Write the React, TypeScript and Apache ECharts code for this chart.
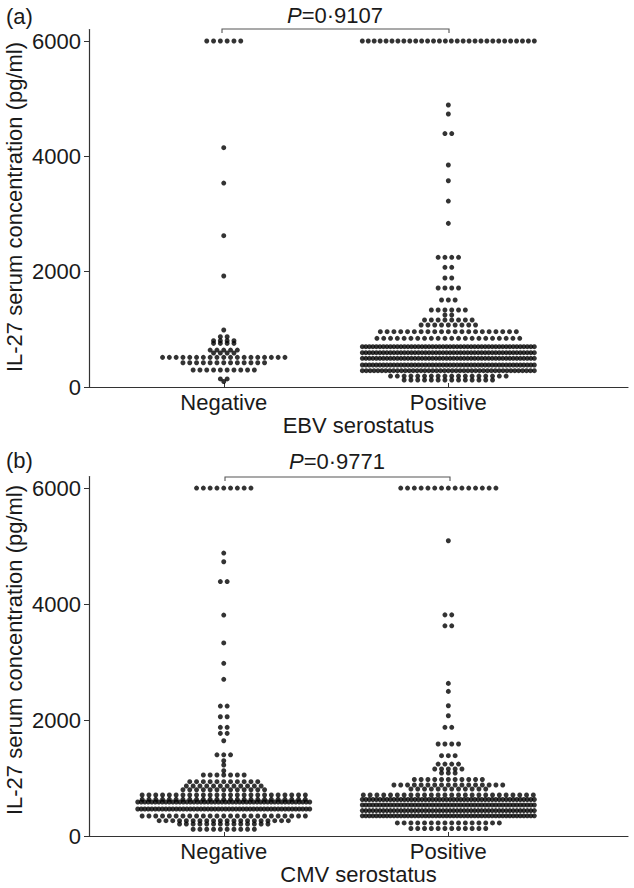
import React, { useEffect, useRef } from 'react';
import * as echarts from 'echarts';

// ---- data (levels in pg/ml and number of dots at each level) ----
const groups = ['Negative', 'Positive'];
const yTicks = [0, 2000, 4000, 6000];

const ebvNegLevels = [6000, 4150, 3537, 2624, 1925, 988, 872, 803, 757, 640, 590, 514, 421, 295, 140, 95];
const ebvNegCounts = [6, 1, 1, 1, 1, 1, 2, 4, 4, 5, 4, 19, 13, 10, 2, 1];

const ebvPosLevels = [6000, 4890, 4734, 4395, 3850, 3577, 3225, 2838, 2249, 2076, 1890, 1717, 1509, 1335, 1248, 1162, 1075, 959, 844, 699, 595, 497, 381, 283, 190, 121];
const ebvPosCounts = [30, 1, 1, 2, 1, 1, 1, 1, 4, 2, 2, 4, 3, 6, 2, 8, 9, 21, 22, 50, 50, 50, 50, 45, 18, 14];

const cmvNegLevels = [6000, 4879, 4730, 4388, 3810, 3330, 2978, 2702, 2241, 2057, 1874, 1770, 1643, 1400, 1298, 1224, 1126, 1052, 937, 862, 798, 707, 633, 586, 465, 345, 264, 207, 116];
const cmvNegCounts = [9, 1, 1, 2, 1, 1, 1, 1, 2, 2, 2, 2, 1, 3, 1, 1, 1, 7, 11, 12, 13, 25, 25, 50, 50, 25, 20, 14, 10];

const cmvPosLevels = [6000, 5092, 3814, 3625, 2632, 2494, 2246, 2074, 1874, 1586, 1385, 1241, 1155, 1086, 974, 880, 810, 707, 630, 535, 438, 348, 225, 130];
const cmvPosCounts = [15, 1, 2, 2, 1, 1, 1, 1, 2, 4, 3, 4, 5, 3, 11, 17, 12, 26, 50, 50, 50, 50, 16, 12];

// ---- layout constants ----
const W = 634;
const H = 888;
const FONT = "'Liberation Sans', Arial, Helvetica, sans-serif";
const FS = 22;
const GRID_LEFT = 89;
const GRID_RIGHT = 6;
const X_MIN = 0.4;
const X_MAX = 2.8;
const Y_MAX = 6200;
const DOT_STEP_PX = 6.8;
const MAX_ROW_PX = 172;

function swarm(levels: number[], counts: number[], center: number, unitsPerPx: number) {
  const pts: number[][] = [];
  levels.forEach((v, r) => {
    const n = counts[r];
    const step = n > 1 ? Math.min(DOT_STEP_PX, MAX_ROW_PX / (n - 1)) : 0;
    for (let i = 0; i < n; i++) {
      const off = (i - (n - 1) / 2) * step;
      pts.push([center + off * unitsPerPx, v]);
    }
  });
  return pts;
}

export default function App() {
  const ref = useRef<HTMLDivElement>(null);

  useEffect(() => {
    if (!ref.current) return;
    const chart = echarts.init(ref.current, undefined, { renderer: 'svg', width: W, height: H });
    const gridW = W - GRID_LEFT - GRID_RIGHT;
    const upp = (X_MAX - X_MIN) / gridW;

    const grids = [
      { left: GRID_LEFT, top: 29.5, width: gridW, height: 357.5 },
      { left: GRID_LEFT, top: 476.5, width: gridW, height: 359.5 },
    ];
    const xNames = ['EBV serostatus', 'CMV serostatus'];

    const xAxes = [0, 1].map((i) => ({
      type: 'value',
      gridIndex: i,
      min: X_MIN,
      max: X_MAX,
      axisLine: { show: true, onZero: false, lineStyle: { color: '#333', width: 1.2 } },
      axisTick: { show: true, inside: true, length: 4, customValues: [1, 2], lineStyle: { color: '#333', width: 1 } },
      axisLabel: {
        show: true,
        customValues: [1, 2],
        formatter: (v: number) => groups[Math.round(v) - 1] ?? '',
        fontSize: FS,
        fontFamily: FONT,
        color: '#1a1a1a',
        margin: 4,
      },
      splitLine: { show: false },
      name: xNames[i],
      nameLocation: 'middle',
      nameGap: 27,
      nameTextStyle: { fontSize: FS, fontFamily: FONT, color: '#1a1a1a' },
    }));

    const yAxes = [0, 1].map((i) => ({
      type: 'value',
      gridIndex: i,
      min: 0,
      max: Y_MAX,
      axisLine: { show: true, onZero: false, lineStyle: { color: '#333', width: 1.2 } },
      axisTick: { show: true, length: 5, customValues: yTicks, lineStyle: { color: '#333', width: 1 } },
      axisLabel: {
        show: true,
        customValues: yTicks,
        formatter: (v: number) => String(Math.round(v)),
        fontSize: FS,
        fontFamily: FONT,
        color: '#1a1a1a',
        margin: 8,
      },
      splitLine: { show: false },
    }));

    const mk = (data: number[][], gi: number) => ({
      type: 'scatter',
      xAxisIndex: gi,
      yAxisIndex: gi,
      data,
      symbol: 'circle',
      symbolSize: 5,
      itemStyle: { color: '#000' },
      silent: true,
    });

    const series = [
      mk(swarm(ebvNegLevels, ebvNegCounts, 1, upp), 0),
      mk(swarm(ebvPosLevels, ebvPosCounts, 2, upp), 0),
      mk(swarm(cmvNegLevels, cmvNegCounts, 1, upp), 1),
      mk(swarm(cmvPosLevels, cmvPosCounts, 2, upp), 1),
    ];

    const txt = (text: string, x: number, y: number, extra: any = {}) => ({
      type: 'text',
      x,
      y,
      silent: true,
      ...extra,
      style: {
        text,
        fontSize: FS,
        fontFamily: FONT,
        fill: '#1a1a1a',
        align: 'left',
        verticalAlign: 'middle',
        ...(extra.style || {}),
      },
    });

    const pText = (val: string, x: number, y: number) => ({
      type: 'text',
      x,
      y,
      silent: true,
      style: {
        text: '{i|P}=' + val,
        fontSize: FS,
        fontFamily: FONT,
        fill: '#1a1a1a',
        align: 'center',
        verticalAlign: 'middle',
        rich: { i: { fontStyle: 'italic', fontSize: FS, fontFamily: FONT, fill: '#1a1a1a' } },
      },
    });

    const bracket = (x1: number, x2: number, y: number) => ({
      type: 'polyline',
      silent: true,
      shape: { points: [[x1, y + 4], [x1, y], [x2, y], [x2, y + 4]] },
      style: { stroke: '#555', lineWidth: 1.1, fill: 'none' },
    });

    const graphic = [
      txt('(a)', 6, 16),
      txt('(b)', 6, 460),
      pText('0·9107', 335, 15),
      pText('0·9771', 337, 461),
      bracket(222, 449, 29),
      bracket(225, 450, 477),
      txt('IL-27 serum concentration (pg/ml)', 14, 207, { rotation: Math.PI / 2, style: { align: 'center', fontSize: 22 } }),
      txt('IL-27 serum concentration (pg/ml)', 14, 650, { rotation: Math.PI / 2, style: { align: 'center', fontSize: 22 } }),
    ];

    chart.setOption({
      animation: false,
      backgroundColor: '#fff',
      grid: grids,
      xAxis: xAxes,
      yAxis: yAxes,
      series,
      graphic,
    } as any);

    return () => chart.dispose();
  }, []);

  return (
    <div
      ref={ref}
      style={{ position: 'fixed', left: 0, top: 0, width: W, height: H, background: '#fff' }}
    />
  );
}
